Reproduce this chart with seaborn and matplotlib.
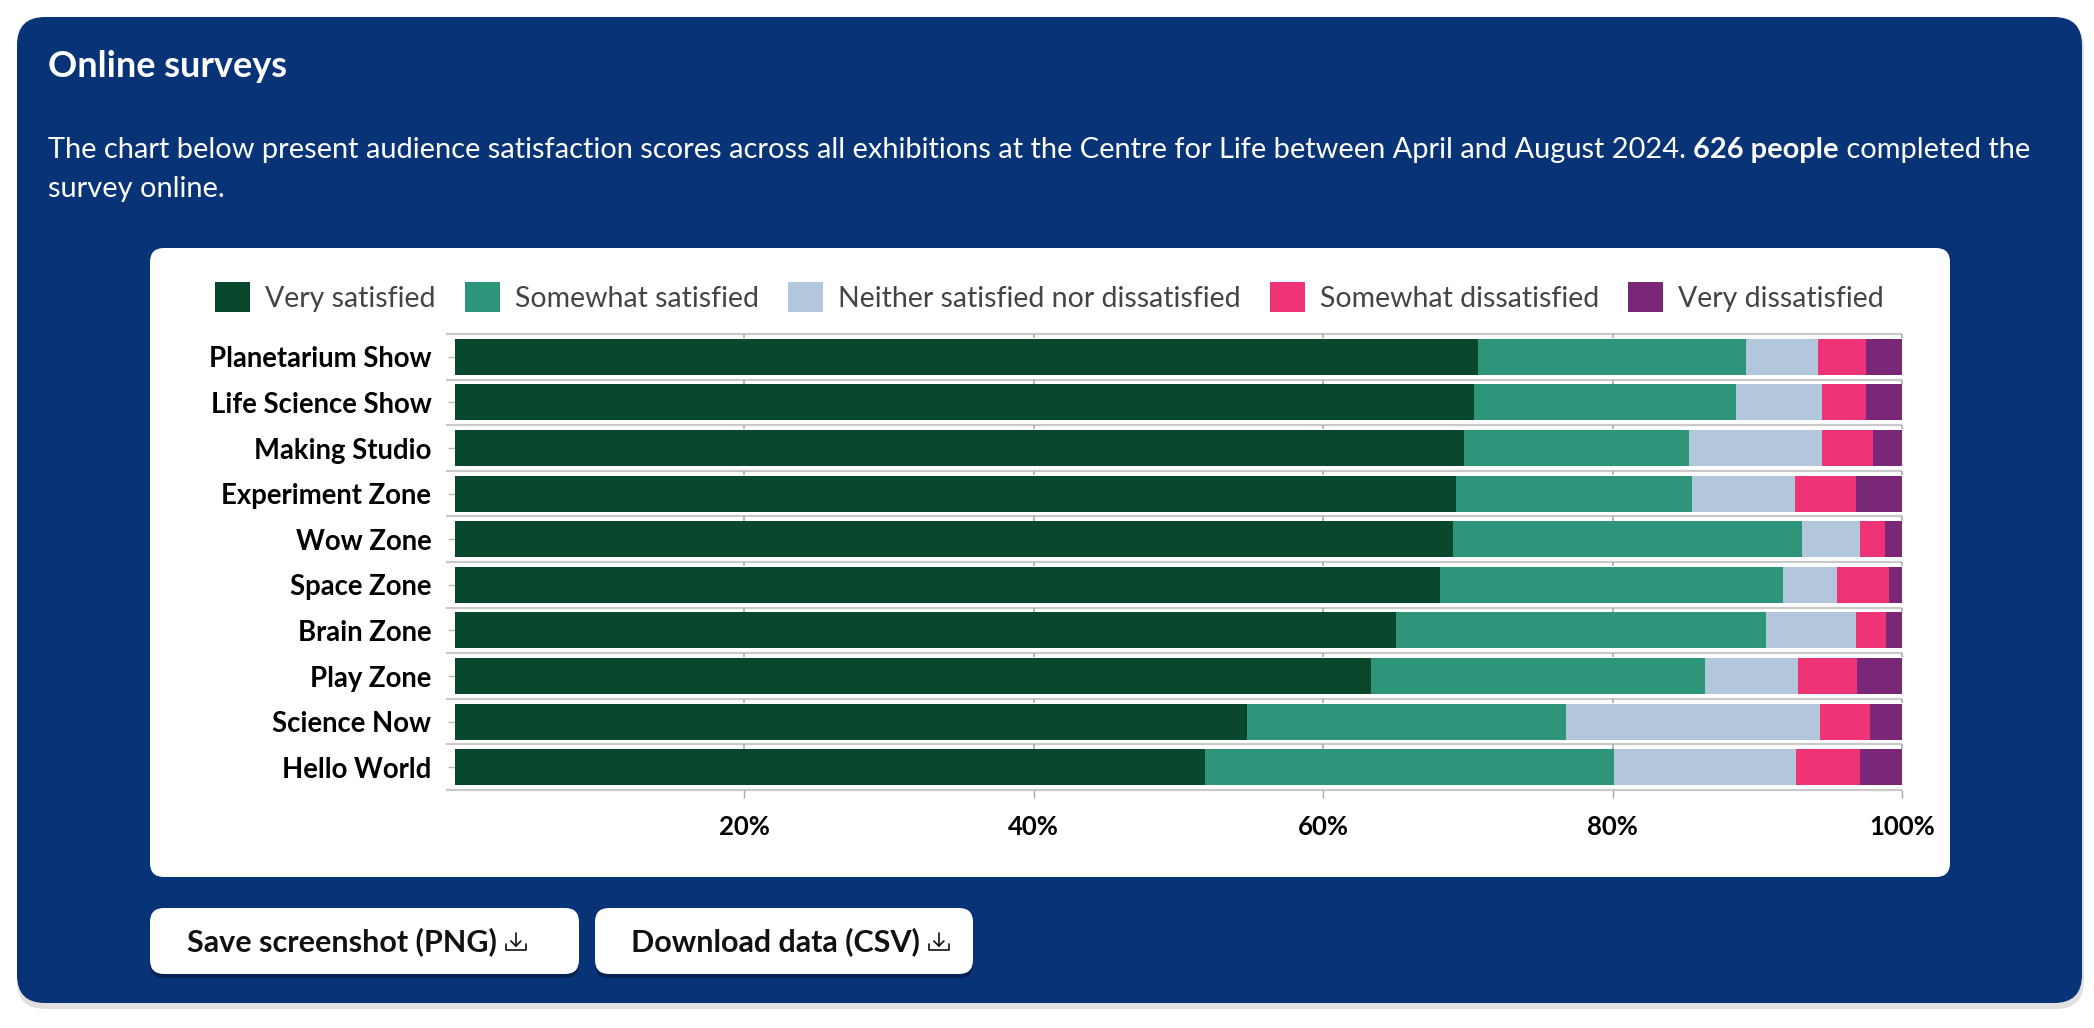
import numpy as np
import pandas as pd
import matplotlib.pyplot as plt
import seaborn as sns
from matplotlib.patches import FancyBboxPatch, Patch
from matplotlib.lines import Line2D

# survey results, % of respondents per exhibition
exhibitions = ["Planetarium Show", "Life Science Show", "Making Studio", "Experiment Zone",
               "Wow Zone", "Space Zone", "Brain Zone", "Play Zone", "Science Now", "Hello World"]
very_satisfied = [70.7, 70.4, 69.7, 69.2, 69.0, 68.1, 65.0, 63.3, 54.7, 51.8]
somewhat_satisfied = [18.5, 18.1, 15.6, 16.3, 24.1, 23.7, 25.6, 23.1, 22.1, 28.3]
neither = [5.0, 6.0, 9.2, 7.1, 4.0, 3.7, 6.2, 6.4, 17.5, 12.6]
somewhat_dissatisfied = [3.3, 3.0, 3.5, 4.2, 1.7, 3.6, 2.1, 4.1, 3.5, 4.4]
very_dissatisfied = [2.5, 2.5, 2.0, 3.2, 1.2, 0.9, 1.1, 3.1, 2.2, 2.9]

responses = ["Very satisfied", "Somewhat satisfied", "Neither satisfied nor dissatisfied",
             "Somewhat dissatisfied", "Very dissatisfied"]
colours = ["#0a482d", "#2e947a", "#b2c7dc", "#ee3377", "#7a2778"]
x_ticks = [20, 40, 60, 80, 100]
x_tick_labels = ["20%", "40%", "60%", "80%", "100%"]

df = pd.DataFrame({
    "exhibition": exhibitions,
    responses[0]: very_satisfied,
    responses[1]: somewhat_satisfied,
    responses[2]: neither,
    responses[3]: somewhat_dissatisfied,
    responses[4]: very_dissatisfied,
})
cum = df[responses].cumsum(axis=1)

sns.set_style("white")
plt.rcParams["font.family"] = ["Lato", "DejaVu Sans"]

W, H = 2094, 1028
fig = plt.figure(figsize=(W / 100, H / 100), dpi=100)
fig.patch.set_facecolor("white")


def rbox(x0, y0, x1, y1, r, fc, z=-5):
    # pixel coords measured from the top-left corner
    p = FancyBboxPatch((x0 / 100, (H - y1) / 100), (x1 - x0) / 100, (y1 - y0) / 100,
                       boxstyle=f"round,pad=0,rounding_size={r / 100}",
                       transform=fig.dpi_scale_trans, fc=fc, ec="none", zorder=z)
    fig.add_artist(p)


# blue card + shadow
rbox(17, 21, 2084, 1009, 28, (0, 0, 0, 0.12), z=-7)
rbox(17, 17, 2082, 1003, 28, "#083477", z=-6)
# white chart panel
rbox(150, 248, 1950, 877, 14, "white")

# title + intro text
fig.text(48 / W, 1 - 77 / H, "Online surveys", color="white", fontsize=26,
         fontweight="bold", va="baseline")
renderer = fig.canvas.get_renderer()
parts = [("The chart below present audience satisfaction scores across all exhibitions at the "
          "Centre for Life between April and August 2024. ", "normal"),
         ("626 people", "bold"), (" completed the", "normal")]
x = 48
for s, wt in parts:
    t = fig.text(x / W, 1 - 158 / H, s, color="white", fontsize=20.85, fontweight=wt, va="baseline")
    x = t.get_window_extent(renderer).x1
fig.text(48 / W, 1 - 197 / H, "survey online.", color="white", fontsize=20.85, va="baseline")

# chart
ax = fig.add_axes([455 / W, 1 - 790 / H, 1447 / W, 456 / H])
ax.patch.set_alpha(0)
for i in range(len(responses) - 1, -1, -1):
    sns.barplot(x=cum[responses[i]], y=df["exhibition"], orient="h", color=colours[i],
                saturation=1, width=0.79, linewidth=0, ax=ax, zorder=2)

n = len(exhibitions)
bounds = np.arange(n + 1) - 0.5
ax.hlines(bounds, -0.6, 100, color="#c9c9c9", lw=1.6, zorder=0, clip_on=False)
for b in bounds[:-1]:
    ax.vlines(x_ticks, b, b + 0.09, color="#aaaaaa", lw=1.2, zorder=0, clip_on=False)

ax.set_xlim(0, 100)
ax.set_ylim(n - 0.5, -0.5)
ax.set_xticks(x_ticks)
ax.set_xticklabels(x_tick_labels, fontweight="bold")
ax.set_xlabel("")
ax.set_ylabel("")
ax.tick_params(axis="x", length=6, width=1, color="#aaaaaa", pad=12, labelsize=18.5,
               labelcolor="black", bottom=True)
ax.tick_params(axis="y", length=5, width=1, color="#bbbbbb", pad=12, labelsize=19.8,
               labelcolor="black", left=True)
for lbl in ax.get_yticklabels():
    lbl.set_fontweight("bold")
for sp in ax.spines.values():
    sp.set_visible(False)

handles = [Patch(facecolor=c, edgecolor="none") for c in colours]
fig.legend(handles, responses, loc="center left", bbox_to_anchor=(215 / W, 1 - 297 / H),
           ncol=5, frameon=False, fontsize=20.5, labelcolor="#444444",
           handlelength=1.23, handleheight=1.26, handletextpad=0.53, columnspacing=1.02,
           borderpad=0, borderaxespad=0)

# buttons
buttons = [("Save screenshot (PNG)", 150, 579, 187, 519),
           ("Download data (CSV)", 595, 973, 631, 913)]
for label, bx0, bx1, tx, ix in buttons:
    rbox(bx0, 912, bx1, 978, 14, (0, 0, 0, 0.35), z=-4)
    rbox(bx0, 908, bx1, 974, 14, "white", z=-3)
    t = fig.text(tx / W, 1 - 951 / H, label, fontsize=22, fontweight="bold", color="#111111",
                 va="baseline")
    ix = t.get_window_extent(renderer).x1 + 7
    cx = ix + 12
    segs = [([cx, cx], [933, 946]),
            ([cx - 5, cx, cx + 5], [941, 946, 941]),
            ([ix + 2, ix + 2, ix + 22, ix + 22], [944, 950, 950, 944])]
    for xs, ys in segs:
        fig.add_artist(Line2D([v / 100 for v in xs], [(H - v) / 100 for v in ys],
                              transform=fig.dpi_scale_trans, color="#111111", lw=1.2))

fig.savefig("out.png", dpi=100)
